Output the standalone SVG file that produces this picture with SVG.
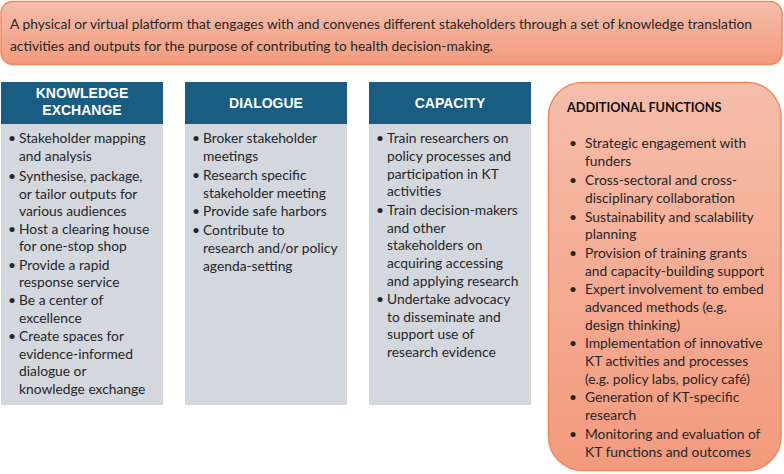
<svg xmlns="http://www.w3.org/2000/svg" width="784" height="474" viewBox="0 0 784 474">
<defs>
<linearGradient id="salmon" x1="0" y1="0" x2="0" y2="1">
<stop offset="0" stop-color="#F6BEAB"/>
<stop offset="1" stop-color="#F39A7D"/>
</linearGradient>
<style>
.box{fill:url(#salmon);stroke:#F0895C;stroke-width:1.5}
.hdr{fill:#195E82}
.body{fill:#D3D8DF}
.ht{font-family:"Liberation Sans",Arial,sans-serif;font-weight:bold;font-size:14px;fill:#FFFFFF;text-anchor:middle}
.t{font-family:Lato,"Open Sans",sans-serif;font-size:13.8px;fill:#262626}
.a{font-family:Lato,"Open Sans",sans-serif;font-size:13.8px;fill:#262626}
.top{font-family:Lato,"Open Sans",sans-serif;font-size:13.8px;fill:#262626}
.ab{font-family:Lato,"Open Sans",sans-serif;font-size:12.7px;font-weight:bold;fill:#111111}
</style>
</defs>
<g id="definition">
<rect class="box" x="1" y="1.5" width="781" height="63" rx="12"/>
<text class="top" x="10" y="29">A physical or virtual platform that engages with and convenes different stakeholders through a set of knowledge translation</text>
<text class="top" x="10" y="51">activities and outputs for the purpose of contributing to health decision-making.</text>
</g>
<g id="knowledge-exchange">
<rect class="body" x="1" y="124" width="162" height="281"/>
<rect class="hdr" x="1" y="82" width="162" height="42"/>
<text class="ht" x="82" y="98">KNOWLEDGE</text>
<text class="ht" x="82" y="115">EXCHANGE</text>
<g class="t">
<text x="8" y="143">•</text><text x="19" y="143">Stakeholder mapping</text>
<text x="19" y="161">and analysis</text>
<text x="8" y="181">•</text><text x="19" y="181">Synthesise, package,</text>
<text x="19" y="199">or tailor outputs for</text>
<text x="19" y="216">various audiences</text>
<text x="8" y="234">•</text><text x="19" y="234">Host a clearing house</text>
<text x="19" y="251">for one-stop shop</text>
<text x="8" y="270">•</text><text x="19" y="270">Provide a rapid</text>
<text x="19" y="287">response service</text>
<text x="8" y="305">•</text><text x="19" y="305">Be a center of</text>
<text x="19" y="323">excellence</text>
<text x="8" y="341">•</text><text x="19" y="341">Create spaces for</text>
<text x="19" y="359">evidence-informed</text>
<text x="19" y="376">dialogue or</text>
<text x="19" y="394">knowledge exchange</text>
</g>
</g>
<g id="dialogue">
<rect class="body" x="185" y="124" width="162" height="281"/>
<rect class="hdr" x="185" y="82" width="162" height="42"/>
<text class="ht" x="266" y="108">DIALOGUE</text>
<g class="t">
<text x="192" y="143">•</text><text x="203" y="143">Broker stakeholder</text>
<text x="203" y="161">meetings</text>
<text x="192" y="180">•</text><text x="203" y="180">Research specific</text>
<text x="203" y="198">stakeholder meeting</text>
<text x="192" y="216">•</text><text x="203" y="216">Provide safe harbors</text>
<text x="192" y="235">•</text><text x="203" y="235">Contribute to</text>
<text x="203" y="253">research and/or policy</text>
<text x="203" y="271">agenda-setting</text>
</g>
</g>
<g id="capacity">
<rect class="body" x="369" y="124" width="162" height="281"/>
<rect class="hdr" x="369" y="82" width="162" height="42"/>
<text class="ht" x="450" y="108">CAPACITY</text>
<g class="t">
<text x="376" y="143">•</text><text x="387" y="143">Train researchers on</text>
<text x="387" y="161">policy processes and</text>
<text x="387" y="179">participation in KT</text>
<text x="387" y="196">activities</text>
<text x="376" y="215">•</text><text x="387" y="215">Train decision-makers</text>
<text x="387" y="233">and other</text>
<text x="387" y="250">stakeholders on</text>
<text x="387" y="268">acquiring accessing</text>
<text x="387" y="286">and applying research</text>
<text x="376" y="304">•</text><text x="387" y="304">Undertake advocacy</text>
<text x="387" y="322">to disseminate and</text>
<text x="387" y="339">support use of</text>
<text x="387" y="357">research evidence</text>
</g>
</g>
<g id="additional-functions">
<rect class="box" x="548.5" y="82.5" width="232.5" height="388" rx="34"/>
<text class="ab" x="567" y="112">ADDITIONAL FUNCTIONS</text>
<g class="a">
<text x="569" y="148">•</text><text x="585" y="148">Strategic engagement with</text>
<text x="585" y="166">funders</text>
<text x="569" y="185">•</text><text x="585" y="185">Cross-sectoral and cross-</text>
<text x="585" y="203">disciplinary collaboration</text>
<text x="569" y="222">•</text><text x="585" y="222">Sustainability and scalability</text>
<text x="585" y="239">planning</text>
<text x="569" y="258">•</text><text x="585" y="258">Provision of training grants</text>
<text x="585" y="276">and capacity-building support</text>
<text x="569" y="294">•</text><text x="585" y="294">Expert involvement to embed</text>
<text x="585" y="312">advanced methods (e.g.</text>
<text x="585" y="330">design thinking)</text>
<text x="569" y="348">•</text><text x="585" y="348">Implementation of innovative</text>
<text x="585" y="366">KT activities and processes</text>
<text x="585" y="384">(e.g. policy labs, policy café)</text>
<text x="569" y="402">•</text><text x="585" y="402">Generation of KT-specific</text>
<text x="585" y="420">research</text>
<text x="569" y="439">•</text><text x="585" y="439">Monitoring and evaluation of</text>
<text x="585" y="457">KT functions and outcomes</text>
</g>
</g>
</svg>
